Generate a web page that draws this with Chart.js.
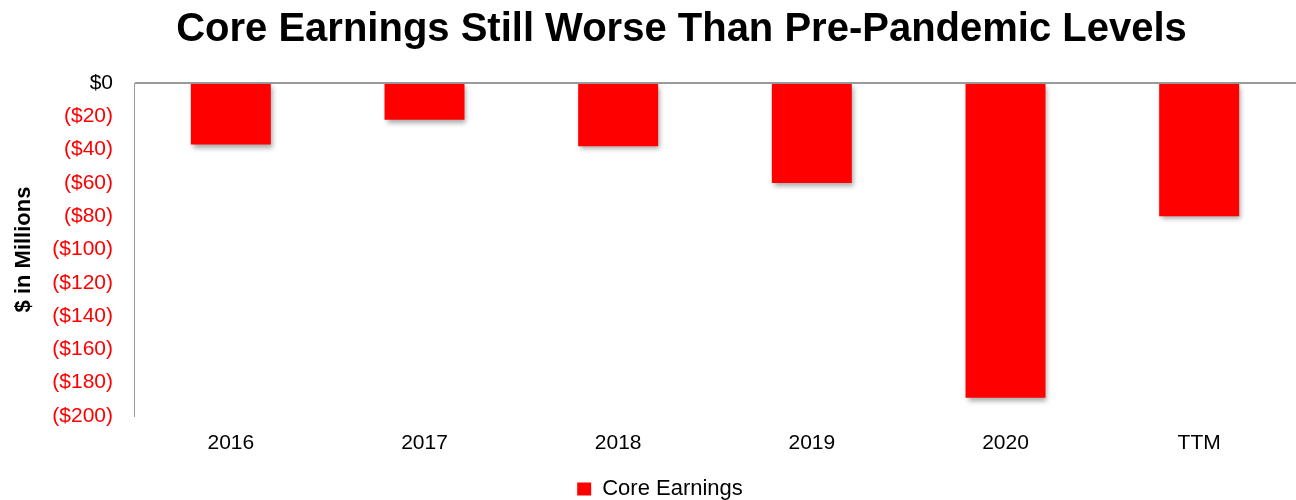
<!DOCTYPE html>
<html>
<head>
<meta charset="utf-8">
<script src="https://cdn.jsdelivr.net/npm/chart.js@4"></script>
<style>
  html, body { margin: 0; padding: 0; background: #fff; }
  #wrap { width: 1296px; height: 500px; position: relative; }
</style>
</head>
<body>
<div id="wrap"><canvas id="c" width="1296" height="500"></canvas></div>
<script>
const categories = ['2016', '2017', '2018', '2019', '2020', 'TTM'];
const coreEarnings = [-37, -22, -38, -60, -189, -80];
const seriesName = 'Core Earnings';
const chartTitle = 'Core Earnings Still Worse Than Pre-Pandemic Levels';
const yAxisTitle = '$ in Millions';

const FONT = '"Liberation Sans", Arial, sans-serif';

function fmtTick(v) {
  if (v === 0) return '$0';
  return v < 0 ? '($' + Math.abs(v) + ')' : '$' + v;
}

const shadowPlugin = {
  id: 'barShadow',
  beforeDatasetsDraw(chart) {
    const ctx = chart.ctx;
    ctx.save();
    ctx.shadowColor = 'rgba(0,0,0,0.35)';
    ctx.shadowBlur = 5;
    ctx.shadowOffsetX = 2;
    ctx.shadowOffsetY = 3;
  },
  afterDatasetsDraw(chart) {
    chart.ctx.restore();
  }
};

const shiftPlugin = {
  id: 'shiftBoxes',
  afterLayout(chart) {
    if (chart.titleBlock) {
      chart.titleBlock.left = 67;
    }
    if (chart.legend) {
      const h = chart.legend.height;
      chart.legend.top = 474;
      chart.legend.bottom = 474 + h;
      chart.legend.left += 12;
      chart.legend.right += 12;
    }
  }
};

new Chart(document.getElementById('c'), {
  type: 'bar',
  data: {
    labels: categories,
    datasets: [{
      label: seriesName,
      data: coreEarnings,
      backgroundColor: '#ff0000',
      borderWidth: 0,
      categoryPercentage: 1.0,
      barPercentage: 0.413
    }]
  },
  options: {
    responsive: false,
    animation: false,
    layout: { padding: 0 },
    plugins: {
      title: {
        display: true,
        text: chartTitle,
        color: '#000',
        font: { family: FONT, size: 40, weight: 'bold' },
        padding: { top: 6, bottom: 29 }
      },
      legend: {
        display: true,
        position: 'bottom',
        labels: {
          color: '#000',
          font: { family: FONT, size: 22 },
          boxWidth: 14,
          boxHeight: 13,
          padding: 4
        }
      },
      tooltip: { enabled: false }
    },
    scales: {
      x: {
        grid: { display: false },
        border: { display: false },
        ticks: {
          color: '#000',
          font: { family: FONT, size: 21 },
          padding: 7
        },
        afterFit(s) { s.height = 48; }
      },
      y: {
        min: -200,
        max: 0,
        ticks: {
          stepSize: 20,
          padding: 21,
          font: { family: FONT, size: 21 },
          color(ctx) { return ctx.tick && ctx.tick.value === 0 ? '#000' : '#ff0000'; },
          callback(v) { return fmtTick(v); }
        },
        grid: {
          drawTicks: false,
          lineWidth: 2,
          color(ctx) { return ctx.tick && ctx.tick.value === 0 ? '#9a9a9a' : 'rgba(0,0,0,0)'; }
        },
        border: { display: true, color: '#9a9a9a', width: 1 },
        title: {
          display: true,
          text: yAxisTitle,
          color: '#000',
          font: { family: FONT, size: 22, weight: 'bold' },
          padding: { top: 11, bottom: 0 }
        },
        afterFit(s) { s.width = 134; }
      }
    }
  },
  plugins: [shadowPlugin, shiftPlugin]
});
</script>
</body>
</html>
